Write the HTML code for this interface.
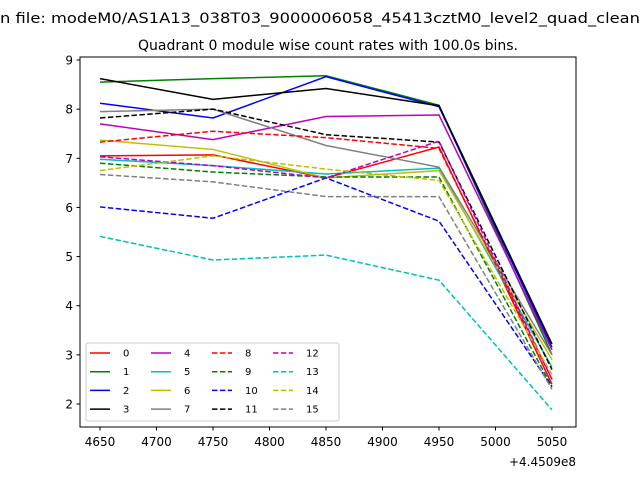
<!DOCTYPE html>
<html><head><meta charset="utf-8"><style>body{margin:0;background:#fff}svg{display:block;font-family:"DejaVu Sans","Liberation Sans",sans-serif}</style></head>
<body>
<svg id="chart" width="640" height="480">
<text x="0" y="23" font-size="14" textLength="640" lengthAdjust="spacingAndGlyphs">n file: modeM0/AS1A13_038T03_9000006058_45413cztM0_level2_quad_clean</text>
<text x="328" y="50" font-size="14" text-anchor="middle">Quadrant 0 module wise count rates with 100.0s bins.</text>
<g id="plot"></g>
</svg>
<script>
const xValues=[4650,4750,4850,4950,5050];
const xTicks=[4650,4700,4750,4800,4850,4900,4950,5000,5050];
const yTicks=[2,3,4,5,6,7,8,9];
const s0=[7.05,7.07,6.6,7.23,2.4];
const s1=[8.55,8.62,8.68,8.08,3.0];
const s2=[8.12,7.82,8.66,8.05,3.15];
const s3=[8.62,8.2,8.42,8.07,3.22];
const s4=[7.7,7.38,7.85,7.88,3.1];
const s5=[6.98,6.85,6.68,6.8,2.75];
const s6=[7.37,7.18,6.6,6.75,2.9];
const s7=[7.95,8.0,7.26,6.82,3.0];
const s8=[7.33,7.55,7.42,7.2,2.5];
const s9=[6.9,6.72,6.62,6.62,2.35];
const s10=[6.01,5.78,6.6,5.72,2.35];
const s11=[7.82,8.0,7.48,7.33,2.7];
const s12=[7.03,6.85,6.6,7.35,2.5];
const s13=[5.41,4.93,5.03,4.52,1.88];
const s14=[6.75,7.05,6.78,6.55,2.6];
const s15=[6.67,6.52,6.22,6.22,2.3];
const seriesLabels=["0","1","2","3","4","5","6","7","8","9","10","11","12","13","14","15"];
const series=[s0,s1,s2,s3,s4,s5,s6,s7,s8,s9,s10,s11,s12,s13,s14,s15];
const colors=["#ff0000","#008000","#0000ff","#000000","#bf00bf","#00bfbf","#bfbf00","#808080"];
const L=80,R=576,T=57,B=427;
const xs=v=>100+(v-4650)*(452/400);
const ys=v=>60+(9-v)*(344/7);
const NS="http://www.w3.org/2000/svg";
const g=document.getElementById('plot');
function mk(t,a){const e=document.createElementNS(NS,t);for(const k in a)e.setAttribute(k,a[k]);g.appendChild(e);return e;}
series.forEach((s,i)=>{
 const p=mk('polyline',{points:s.map((v,j)=>xs(xValues[j])+','+ys(v)).join(' '),fill:'none',stroke:colors[i%8],'stroke-width':1.5});
 if(i>=8)p.setAttribute('stroke-dasharray','5.5,2.4');
 
 
});
const frame=mk('rect',{x:L,y:T,width:R-L,height:B-T,fill:'none',stroke:'#000','stroke-width':1});


xTicks.forEach(v=>{
 const x=xs(v);
 const tk=mk('line',{x1:x,x2:x,y1:B,y2:B+3.5,stroke:'#000'});
 
 
 const t=mk('text',{x:x,y:B+19,'font-size':12,'text-anchor':'middle'});t.textContent=v;
 
 
});
yTicks.forEach(v=>{
 const y=ys(v);
 const tk=mk('line',{x1:L-3.5,x2:L,y1:y,y2:y,stroke:'#000'});
 
 
 const t=mk('text',{x:L-7,y:y+4.5,'font-size':12,'text-anchor':'end'});t.textContent=v;
 
 
});
const off=mk('text',{x:R,y:466,'font-size':12,'text-anchor':'end'});off.textContent='+4.4509e8';


const lg=mk('rect',{x:86,y:343,width:253,height:78,rx:2,fill:'#fff','fill-opacity':0.8,stroke:'#ccc'});


const colX=[90,151,212,273];
series.forEach((s,i)=>{
 const c=Math.floor(i/4),r=i%4;
 const x=colX[c],y=353+r*18.7;
 const ln=mk('line',{x1:x,x2:x+20,y1:y,y2:y,stroke:colors[i%8],'stroke-width':1.5});
 if(i>=8)ln.setAttribute('stroke-dasharray','5.5,2.4');
 
 
 const t=mk('text',{x:x+33,y:y+3.5,'font-size':10});t.textContent=seriesLabels[i];
 
 
});
</script>
</body></html>
